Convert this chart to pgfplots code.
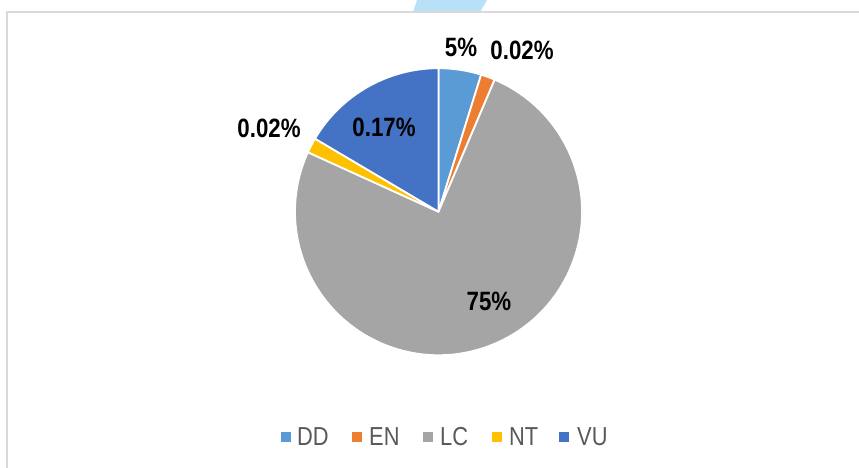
\documentclass[border=0pt]{standalone}
\usepackage{pgfplots}
\pgfplotsset{compat=1.18}
\usepackage{pgfplotstable}
\usepackage{fontspec}
\setmainfont{Liberation Sans}
\newfontfamily\narrowfont[FakeStretch=0.84]{Liberation Sans}
\definecolor{cDD}{HTML}{5B9BD5}
\definecolor{cEN}{HTML}{ED7D31}
\definecolor{cLC}{HTML}{A5A5A5}
\definecolor{cNT}{HTML}{FFC000}
\definecolor{cVU}{HTML}{4472C4}
\definecolor{legtxt}{HTML}{595959}
\definecolor{frame}{HTML}{D9D9D9}
\definecolor{wm}{HTML}{B8E0F8}
\pgfplotstableread{
cat val
DD 4.8
EN 1.6
LC 75.4
NT 1.7
VU 16.5
}\piedata
\begin{document}
\begin{tikzpicture}[x=1pt,y=1pt]
\useasboundingbox (0,0) rectangle (859,467);
\clip (0,0) rectangle (859,467);
\fill[white] (0,0) rectangle (859,467);
% faint watermark at top
\fill[wm] (417,467) -- (487,467) -- (480,455) -- (413,455) -- cycle;
% chart frame
\draw[frame, line width=1.5pt] (7,-20) -- (7,455) -- (880,455);
\begin{axis}[at={(295pt,111.8pt)}, anchor=south west, scale only axis,
  width=287pt, height=287pt, xmin=-1, xmax=1, ymin=-1, ymax=1, hide axis]
\addplot[draw=none] coordinates {(0,0)};
\pgfplotsextra{
  \gdef\cum{90}
  \foreach \i/\col in {0/cDD,1/cEN,2/cLC,3/cNT,4/cVU}{
    \pgfplotstablegetelem{\i}{val}\of\piedata
    \pgfmathsetmacro\endang{\cum-3.6*\pgfplotsretval}
    \fill[\col, draw=white, line width=1.8pt, line join=round]
      (axis cs:0,0) -- ++(\cum:143.5pt)
      arc[start angle=\cum, end angle=\endang, radius=143.5pt] -- cycle;
    \xdef\cum{\endang}
  }
}
\end{axis}
% data labels
\begin{scope}[every node/.style={font=\narrowfont\bfseries\fontsize{26.5}{26.5}\selectfont, text=black, inner sep=0pt}]
\node at (461,420) {5\%};
\node at (522,417) {0.02\%};
\node at (269,339) {0.02\%};
\node at (384,340) {0.17\%};
\node at (489,166) {75\%};
\end{scope}
% legend
\begin{scope}[every node/.style={font=\narrowfont\fontsize{26}{26}\selectfont, text=legtxt, inner sep=0pt, anchor=west}]
\fill[cDD] (280.5,25) rectangle (290.5,35); \node at (297,30) {DD};
\fill[cEN] (351.5,25) rectangle (361.5,35); \node at (369,30) {EN};
\fill[cLC] (422.5,25) rectangle (432.5,35); \node at (440,30) {LC};
\fill[cNT] (491.5,25) rectangle (501.5,35); \node at (509,30) {NT};
\fill[cVU] (558.5,25) rectangle (568.5,35); \node at (577,30) {VU};
\end{scope}
\end{tikzpicture}
\end{document}
